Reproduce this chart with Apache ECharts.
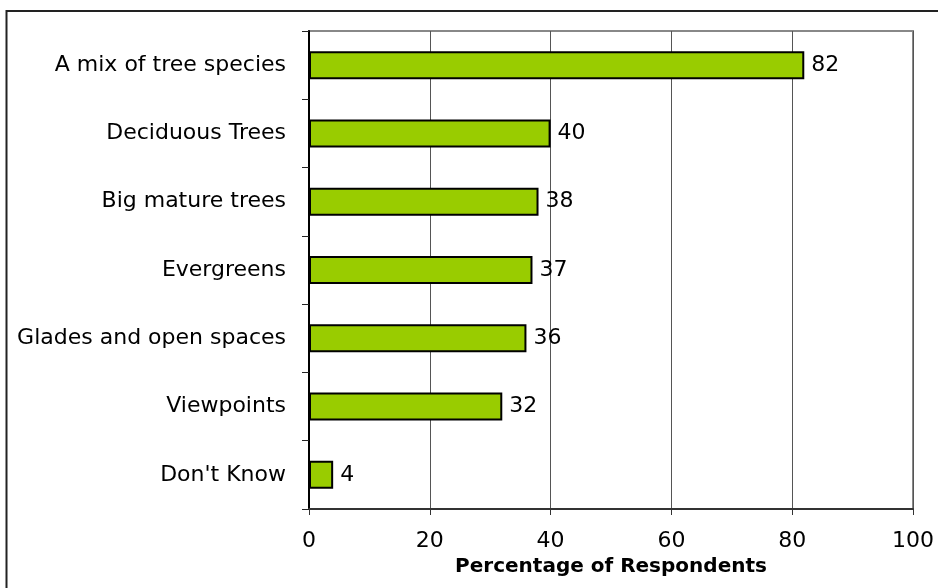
<!DOCTYPE html>
<html>
<head>
<meta charset="utf-8">
<script src="https://cdn.jsdelivr.net/npm/echarts@6/dist/echarts.min.js"></script>
<style>html,body{margin:0;padding:0;background:#fff}#c{width:938px;height:588px}</style>
</head>
<body>
<div id="c"></div>
<script>
var categories = ["A mix of tree species", "Deciduous Trees", "Big mature trees", "Evergreens", "Glades and open spaces", "Viewpoints", "Don't Know"];
var values = [82, 40, 38, 37, 36, 32, 4];
var xTicks = [0, 20, 40, 60, 80, 100];
var axisTitle = "Percentage of Respondents";

var FONT = "DejaVu Sans";
var chart = echarts.init(document.getElementById('c'), null, {renderer: 'canvas'});
chart.setOption({
  animation: false,
  backgroundColor: '#fff',
  graphic: [{
    type: 'rect', silent: true, z: 0,
    shape: {x: 6.5, y: 11, width: 1000, height: 1000},
    style: {fill: 'none', stroke: '#222', lineWidth: 2}
  }],
  grid: {left: 309, right: 25, top: 31, bottom: 79, show: true, borderColor: '#888', borderWidth: 2, backgroundColor: 'transparent'},
  xAxis: {
    type: 'value', min: xTicks[0], max: xTicks[xTicks.length - 1], interval: 20,
    axisLine: {show: true, lineStyle: {color: '#333', width: 2}},
    axisTick: {show: true, length: 6, lineStyle: {color: '#333', width: 1}},
    splitLine: {show: true, lineStyle: {color: '#555', width: 1}},
    axisLabel: {margin: 21, fontFamily: FONT, fontSize: 22, color: '#000'},
    name: axisTitle, nameLocation: 'middle', nameGap: 48,
    nameTextStyle: {fontFamily: FONT, fontSize: 20, fontWeight: 'bold', color: '#000'}
  },
  yAxis: {
    type: 'category', data: categories, inverse: true,
    axisLine: {show: true, lineStyle: {color: '#000', width: 2}},
    axisTick: {show: true, length: 7, alignWithLabel: false, lineStyle: {color: '#222', width: 1}},
    splitLine: {show: false},
    axisLabel: {margin: 23, fontFamily: FONT, fontSize: 22, color: '#000'}
  },
  series: [{
    type: 'bar', data: values, barWidth: 28,
    itemStyle: {color: '#99CC00', borderColor: '#000', borderWidth: 2},
    label: {show: true, position: 'right', distance: 7, fontFamily: FONT, fontSize: 22, color: '#000'}
  }]
});
</script>
</body>
</html>
